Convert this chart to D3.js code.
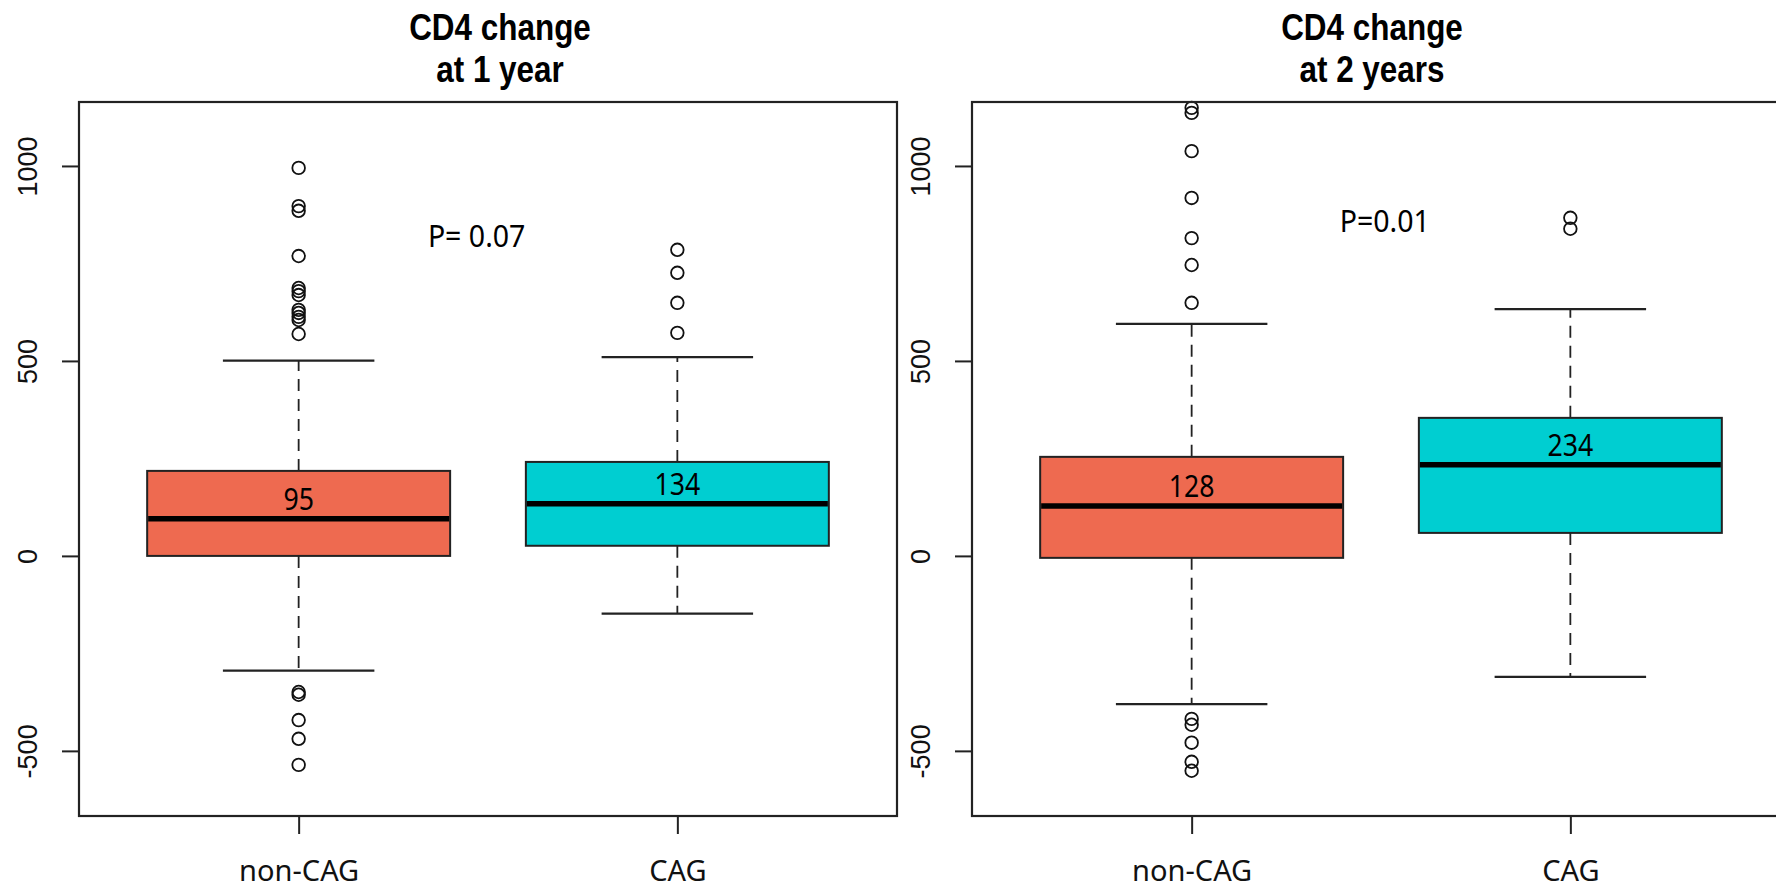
<!DOCTYPE html>
<html>
<head>
<meta charset="utf-8">
<script src="https://d3js.org/d3.v7.min.js"></script>
<style>
    body { margin: 0; background: white; }
    .title { font-family: "Liberation Sans", Arial, sans-serif; font-weight: bold; font-size: 37px; text-anchor: middle; }
    .ytick text { font-family: "Liberation Sans", Arial, sans-serif; font-size: 27px; }
    .xtick text { font-family: "Noto Sans", sans-serif; font-size: 29px; }
    .note { font-family: "Noto Sans", sans-serif; font-size: 29px; text-anchor: middle; }
    .pval { font-family: "Noto Sans", sans-serif; font-size: 31px; text-anchor: middle; }
</style>
</head>
<body>
<script>
    // groups + colours
    const groups = ["non-CAG", "CAG"];
    const fills = ["#EE6A50", "#00CED1"];
    const yTicks = [-500, 0, 500, 1000];

    // CD4 change at 1 year
    const y1Title = ["CD4 change", "at 1 year"];
    const y1P = "P= 0.07";
    const y1Median = [95, 134];
    const y1Q1 = [0, 26];
    const y1Q3 = [218, 241];
    const y1Low = [-294, -148];
    const y1High = [501, 510];
    const y1Out = [
        [995, 897, 885, 769, 687, 679, 669, 631, 623, 613, 605, 569, -349, -356, -421, -469, -536],
        [785, 726, 649, 572]
    ];

    // CD4 change at 2 years
    const y2Title = ["CD4 change", "at 2 years"];
    const y2P = "P=0.01";
    const y2Median = [128, 234];
    const y2Q1 = [-5, 59];
    const y2Q3 = [254, 354];
    const y2Low = [-380, -310];
    const y2High = [595, 633];
    const y2Out = [
        [1149, 1136, 1038, 918, 815, 746, 649, -418, -433, -479, -528, -551],
        [867, 839]
    ];

    const W = 1776, H = 885;
    const panelW = 818, plotTop = 102, plotBottom = 816;

    const svg = d3.select("body").append("svg")
        .attr("width", W).attr("height", H);

    const y = d3.scaleLinear().domain([-667, 1164]).range([plotBottom, plotTop]);

    function drawPanel(left, title, titleX, pText, pPos, med, q1, q3, lo, hi, outs) {
        const x = d3.scaleLinear().domain([0.42, 2.58]).range([left, left + panelW]);
        const g = svg.append("g");
        const bw = x(1.4) - x(0.6);

        // title, two lines (the original font is a narrow bold)
        title.forEach((t, k) => {
            g.append("text").attr("class", "title")
                .attr("transform", "translate(" + titleX + "," + (40 + k * 42) + ") scale(0.85,1)")
                .text(t);
        });

        const data = groups.map((name, i) => ({
            name: name, i: i + 1, fill: fills[i],
            med: med[i], q1: q1[i], q3: q3[i], lo: lo[i], hi: hi[i], out: outs[i]
        }));

        // dashed whiskers
        g.selectAll(".whisk").data(data).enter().append("path")
            .attr("d", d => "M" + x(d.i) + "," + y(d.q3) + "V" + y(d.hi) +
                "M" + x(d.i) + "," + y(d.q1) + "V" + y(d.lo))
            .attr("stroke", "#222").attr("stroke-width", 1.8)
            .attr("stroke-dasharray", "12,8").attr("fill", "none");

        // caps
        g.selectAll(".cap").data(data).enter().append("path")
            .attr("d", d => "M" + (x(d.i) - bw / 4) + "," + y(d.hi) + "H" + (x(d.i) + bw / 4) +
                "M" + (x(d.i) - bw / 4) + "," + y(d.lo) + "H" + (x(d.i) + bw / 4))
            .attr("stroke", "#222").attr("stroke-width", 2.2).attr("fill", "none");

        // boxes
        g.selectAll(".box").data(data).enter().append("rect")
            .attr("x", d => x(d.i) - bw / 2)
            .attr("y", d => y(d.q3))
            .attr("width", bw)
            .attr("height", d => y(d.q1) - y(d.q3))
            .attr("fill", d => d.fill)
            .attr("stroke", "#222").attr("stroke-width", 2);

        // medians
        g.selectAll(".med").data(data).enter().append("line")
            .attr("x1", d => x(d.i) - bw / 2 + 1).attr("x2", d => x(d.i) + bw / 2 - 1)
            .attr("y1", d => y(d.med)).attr("y2", d => y(d.med))
            .attr("stroke", "black").attr("stroke-width", 5.5);

        // median labels
        g.selectAll(".medlab").data(data).enter().append("text")
            .attr("class", "note")
            .attr("transform", d => "translate(" + x(d.i) + "," + (y(d.med) - 9) + ") scale(0.92,1.05)")
            .text(d => d.med);

        // outliers
        data.forEach(d => {
            g.selectAll(null).data(d.out).enter().append("circle")
                .attr("cx", x(d.i)).attr("cy", v => y(v)).attr("r", 6.3)
                .attr("fill", "none").attr("stroke", "#111").attr("stroke-width", 1.8);
        });

        // p value
        g.append("text").attr("class", "pval")
            .attr("transform", "translate(" + x(pPos[0]) + "," + y(pPos[1]) + ") scale(0.92,1)")
            .text(pText);

        // y axis
        const ya = g.append("g").attr("class", "ytick")
            .attr("transform", "translate(" + left + ",0)")
            .call(d3.axisLeft(y).tickValues(yTicks).tickSize(17).tickFormat(d3.format("d")));
        ya.select(".domain").remove();
        ya.selectAll("line").attr("stroke", "#222").attr("stroke-width", 2);
        ya.selectAll("text")
            .attr("x", null).attr("dy", null)
            .attr("text-anchor", "middle")
            .attr("fill", "#111")
            .attr("transform", "translate(-42,0) rotate(-90)")
            .text(d => d < 0 ? "-" + Math.abs(d) : d);

        // x axis
        const xa = g.append("g").attr("class", "xtick")
            .attr("transform", "translate(0," + plotBottom + ")")
            .call(d3.axisBottom(x).tickValues([1, 2]).tickSize(18).tickPadding(0)
                .tickFormat(v => groups[v - 1]));
        xa.select(".domain").remove();
        xa.selectAll("line").attr("stroke", "#222").attr("stroke-width", 2);
        xa.selectAll("text").attr("dy", null).attr("y", 65).attr("fill", "#111");

        // plot frame
        g.append("rect")
            .attr("x", left).attr("y", plotTop)
            .attr("width", panelW).attr("height", plotBottom - plotTop)
            .attr("fill", "none").attr("stroke", "#222").attr("stroke-width", 2.2);
    }

    drawPanel(79, y1Title, 500, y1P, [1.47, 792], y1Median, y1Q1, y1Q3, y1Low, y1High, y1Out);
    drawPanel(972, y2Title, 1372, y2P, [1.51, 831], y2Median, y2Q1, y2Q3, y2Low, y2High, y2Out);
</script>
</body>
</html>
